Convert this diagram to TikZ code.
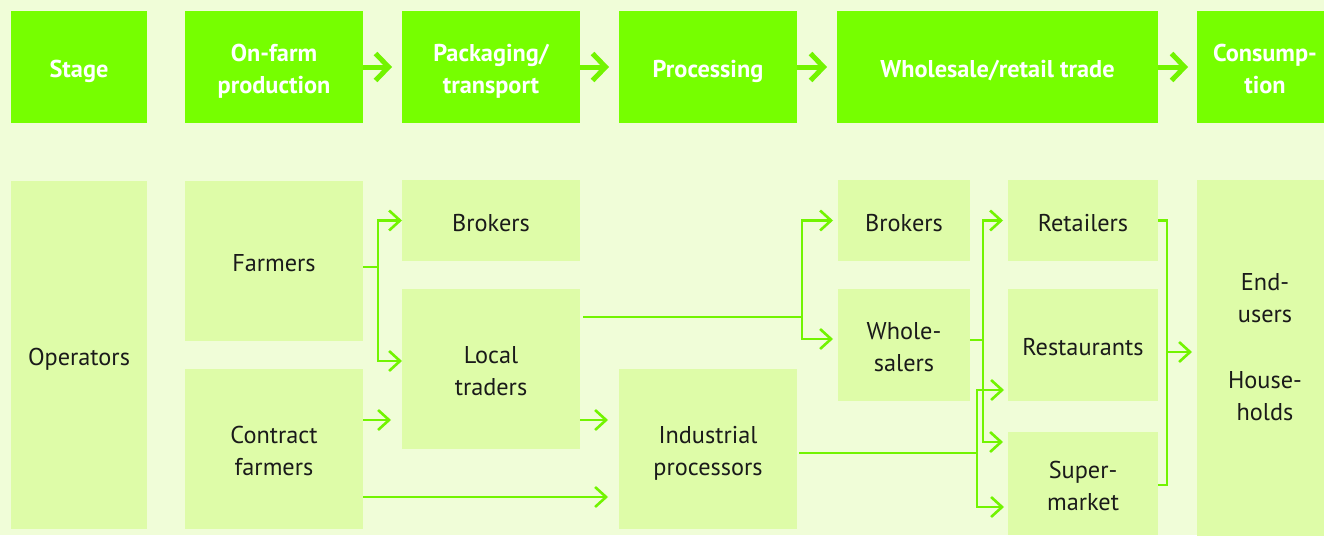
\documentclass[tikz,border=0pt]{standalone}
\usepackage{fontspec}
\setmainfont{PT Sans}
\usetikzlibrary{arrows.meta}
\definecolor{bgcol}{RGB}{240,253,216}
\definecolor{boxgreen}{RGB}{222,252,168}
\definecolor{headgreen}{RGB}{118,255,0}
\definecolor{linkgreen}{RGB}{114,244,0}
\definecolor{textdark}{RGB}{26,26,26}
\begin{document}
\begin{tikzpicture}[x=1pt,y=-1pt,
        stagebox/.style={fill=headgreen,text=white,font=\bfseries\fontsize{24.3}{32}\selectfont,
            align=center,inner sep=0pt,outer sep=0pt,minimum height=112pt,
            text height=21pt,text depth=0pt},
        opbox/.style={fill=boxgreen,text=textdark,font=\fontsize{24.3}{32}\selectfont,
            align=center,inner sep=0pt,outer sep=0pt,text height=21pt,text depth=0pt},
        twolines/.style={text height=53pt},
        flow/.style={draw=linkgreen,line width=5pt,shorten >=10pt,
            -{Straight Barb[length=13pt,width=27pt]}},
        link/.style={draw=linkgreen,line width=2.6pt,
            -{Straight Barb[length=11pt,width=20pt]}}]
\useasboundingbox (0,0) rectangle (1324,535);
\fill[bgcol] (0,0) rectangle (1324,535);

% stages
\node[stagebox,minimum width=136pt] (stage) at (79,67) {Stage};
\node[stagebox,twolines,minimum width=178pt] (onfarm) at (274,67) {On-farm\\production};
\node[stagebox,twolines,minimum width=178pt] (pack) at (491,67) {Packaging/\\transport};
\node[stagebox,minimum width=178pt] (proc) at (708,67) {Processing};
\node[stagebox,minimum width=321pt] (trade) at (997.5,67) {Wholesale/retail trade};
\node[stagebox,twolines,minimum width=136pt] (cons) at (1265,67) {Consump-\\tion};

\draw[flow] (onfarm.east) -- (pack.west);
\draw[flow] (pack.east) -- (proc.west);
\draw[flow] (proc.east) -- (trade.west);
\draw[flow, shorten >=9pt] (trade.east) -- (cons.west);

% operators
\node[opbox,minimum width=136pt,minimum height=348pt] (operators) at (79,355) {Operators};
\node[opbox,minimum width=178pt,minimum height=160pt] (farmers) at (274,261) {Farmers};
\node[opbox,twolines,minimum width=178pt,minimum height=160pt] (contract) at (274,449) {Contract\\farmers};
\node[opbox,minimum width=178pt,minimum height=81pt] (brokersA) at (491,220.5) {Brokers};
\node[opbox,twolines,minimum width=178pt,minimum height=160pt] (local) at (491,369) {Local\\traders};
\node[opbox,twolines,minimum width=178pt,minimum height=160pt] (indproc) at (708,449) {Industrial\\processors};
\node[opbox,minimum width=132pt,minimum height=81pt] (brokersB) at (904,220.5) {Brokers};
\node[opbox,twolines,minimum width=132pt,minimum height=112pt] (wholes) at (904,345) {Whole-\\salers};
\node[opbox,minimum width=150pt,minimum height=81pt] (retail) at (1083,220.5) {Retailers};
\node[opbox,minimum width=150pt,minimum height=112pt] (rest) at (1083,345) {Restaurants};
\node[opbox,twolines,minimum width=150pt,minimum height=103pt] (super) at (1083,483.5) {Super-\\market};
\node[opbox,text height=151pt,text depth=27pt,minimum width=136pt,minimum height=356pt] (endusers) at (1265,358)
    {End-\\users\\[34pt]House-\\holds};

% junctions
\coordinate (jfarm) at (378,267);
\coordinate (jlocal) at (802,317);
\coordinate (jwhole) at (983,340);
\coordinate (jind) at (977,453);
\coordinate (jcons) at (1167,352);

\draw[link,-] ([yshift=-6pt]farmers.east) -- (jfarm);
\draw[link] (jfarm) |- (brokersA.west);
\draw[link] (jfarm) |- ([yshift=8pt]local.west);
\draw[link, shorten >=11pt] ([yshift=29pt]contract.east) -- ([yshift=-51pt]local.west);
\draw[link, shorten >=11pt] ([yshift=-51pt]local.east) -- ([yshift=29pt]indproc.west);
\draw[link, shorten >=11pt] ([yshift=-48pt]contract.east) -- ([yshift=-48pt]indproc.west);

\draw[link,-, shorten <=3pt] ([yshift=52pt]local.east) -- (jlocal);
\draw[link, shorten >=5pt] (jlocal) |- (brokersB.west);
\draw[link, shorten >=5pt] (jlocal) |- ([yshift=6pt]wholes.west);

\draw[link,-] ([yshift=5pt]wholes.east) -- (jwhole);
\draw[link, shorten >=5pt] (jwhole) |- (retail.west);
\draw[link, shorten >=5pt] (jwhole) |- ([yshift=41.5pt]super.west);

\draw[link,-, shorten <=2pt] ([yshift=-4pt]indproc.east) -- (jind);
\draw[link, shorten >=4pt] (jind) |- ([yshift=-45pt]rest.west);
\draw[link, shorten >=4pt] (jind) |- ([yshift=-23.5pt]super.west);

\draw[link,-] (retail.east) -| (jcons) |- ([yshift=-1.5pt]super.east);
\draw[link, shorten >=5pt] (jcons) -- ([yshift=6pt]endusers.west);

\end{tikzpicture}
\end{document}
